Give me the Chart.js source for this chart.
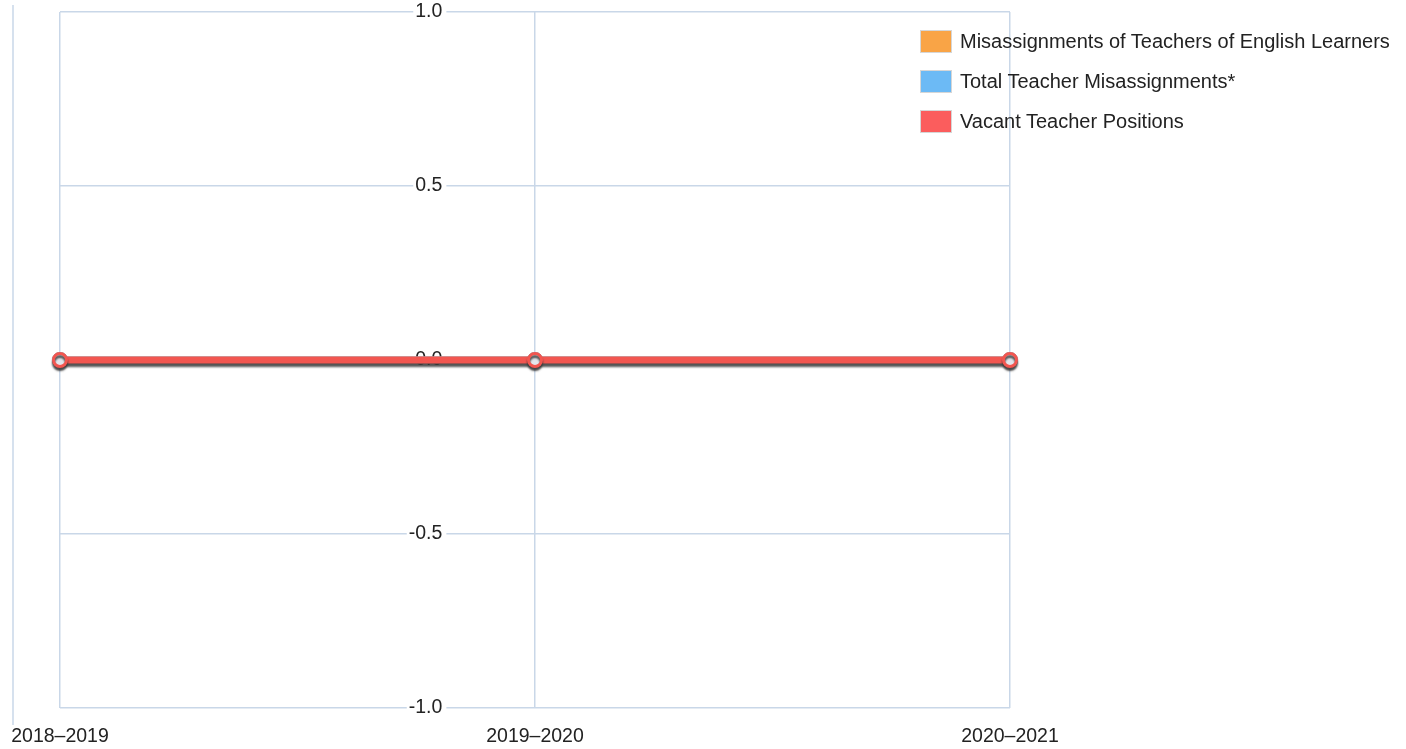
<!DOCTYPE html>
<html><head><meta charset="utf-8">
<script src="https://cdn.jsdelivr.net/npm/chart.js@4.4.0/dist/chart.umd.min.js"></script>
<style>
html,body{margin:0;padding:0;background:#fff;}
#wrap{position:relative;width:1406px;height:749px;overflow:hidden;}
#legend{position:absolute;left:920px;top:21px;font-family:"Liberation Sans",Arial,sans-serif;font-size:20px;color:#222;}
.item{display:flex;align-items:center;height:40px;}
.box{width:32px;height:23px;margin-right:8px;box-sizing:border-box;border:1px solid #d6d6d6;}
</style></head><body>
<div id="wrap"><canvas id="c" width="1406" height="749"></canvas><div id="legend"></div></div>
<script>
const categories = ['2018–2019', '2019–2020', '2020–2021'];
const englishLearnerMisassignments = [0, 0, 0];
const totalTeacherMisassignments = [0, 0, 0];
const vacantTeacherPositions = [0, 0, 0];
const yTickValues = [-1.0, -0.5, 0.0, 0.5, 1.0];
const seriesLabels = ['Misassignments of Teachers of English Learners', 'Total Teacher Misassignments*', 'Vacant Teacher Positions'];
const seriesColors = ['#f9a446', '#6cbaf5', '#f25650'];
const legendBoxColors = ['#f9a446', '#6cbaf5', '#fb5d5d'];

const FONT = '"Liberation Sans", Arial, sans-serif';
const GRID = '#c9d7e8';

const shadowPlugin = {
  id: 'lineShadow',
  beforeDatasetDraw(chart, args) {
    if (args.index === 2) {
      const ctx = chart.ctx;
      ctx.save();
      ctx.shadowColor = 'rgba(55,55,55,0.85)';
      ctx.shadowOffsetY = 3;
      ctx.shadowBlur = 2;
    }
  },
  afterDatasetDraw(chart, args) {
    if (args.index === 2) chart.ctx.restore();
  }
};

const frameLinePlugin = {
  id: 'frameLine',
  beforeDatasetsDraw(chart) {
    const ctx = chart.ctx, a = chart.chartArea;
    ctx.save();
    ctx.strokeStyle = GRID;
    ctx.lineWidth = 1.5;
    ctx.beginPath();
    ctx.moveTo(a.left - 47, a.top - 7);
    ctx.lineTo(a.left - 47, a.bottom + 17);
    ctx.stroke();
    ctx.restore();
  }
};

const mkSet = (label, data, color, order) => ({
  label, data, order,
  borderColor: color,
  backgroundColor: color,
  borderWidth: 7,
  pointRadius: 6.5,
  pointBorderWidth: 3,
  pointBorderColor: color,
  pointBackgroundColor: '#e4e6ec',
  tension: 0,
  fill: false
});

const chart = new Chart(document.getElementById('c'), {
  type: 'line',
  data: {
    labels: categories,
    datasets: [
      mkSet(seriesLabels[0], englishLearnerMisassignments, seriesColors[0], 2),
      mkSet(seriesLabels[1], totalTeacherMisassignments, seriesColors[1], 1),
      mkSet(seriesLabels[2], vacantTeacherPositions, seriesColors[2], 0)
    ]
  },
  options: {
    responsive: false,
    animation: false,
    devicePixelRatio: 1,
    layout: { padding: { left: 60, right: 396, top: 12, bottom: 1 } },
    plugins: { legend: { display: false }, tooltip: { enabled: false } },
    scales: {
      x: {
        type: 'category',
        offset: false,
        afterFit: s => { s.height = 40; s.paddingLeft = 0; s.paddingRight = 0; },
        border: { display: false },
        grid: { color: GRID, lineWidth: 1.5, drawTicks: false },
        ticks: { font: { family: FONT, size: 19.5 }, color: '#222', padding: 17, maxRotation: 0, autoSkip: false }
      },
      y: {
        min: -1, max: 1,
        position: { x: 0.805 },
        afterFit: s => { s.width = 0; s.paddingTop = 0; s.paddingBottom = 0; },
        afterBuildTicks: s => { s.ticks = yTickValues.map(v => ({ value: v })); },
        border: { display: false },
        grid: { color: GRID, lineWidth: 1.5, drawTicks: false },
        ticks: {
          font: { family: FONT, size: 19.5 }, color: '#222', padding: 0,
          callback: v => Number(v).toFixed(1),
          showLabelBackdrop: true, backdropColor: '#ffffff',
          backdropPadding: { top: 0, bottom: 0, left: 2, right: 4 }
        }
      }
    }
  },
  plugins: [shadowPlugin, frameLinePlugin]
});

const legend = document.getElementById('legend');
seriesLabels.forEach((lab, i) => {
  const item = document.createElement('div');
  item.className = 'item';
  const box = document.createElement('span');
  box.className = 'box';
  box.style.background = legendBoxColors[i];
  const txt = document.createElement('span');
  txt.textContent = lab;
  item.appendChild(box);
  item.appendChild(txt);
  legend.appendChild(item);
});
</script>
</body></html>
